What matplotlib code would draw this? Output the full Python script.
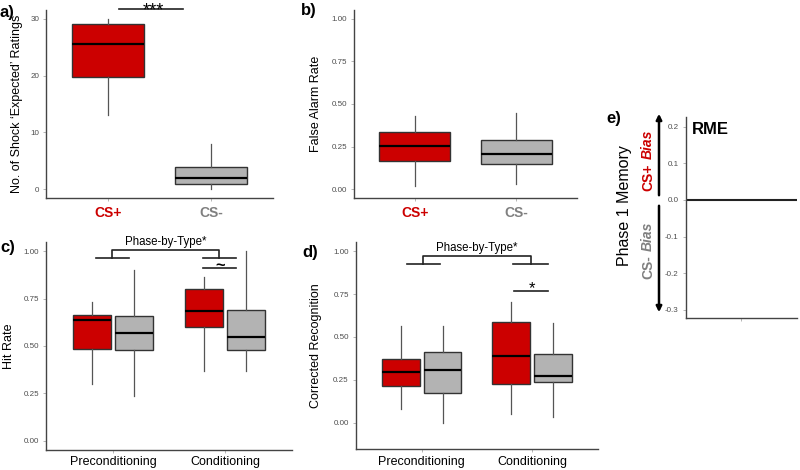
import matplotlib
matplotlib.use('Agg')
import matplotlib.pyplot as plt
from matplotlib.patches import FancyArrowPatch

plt.rcParams['font.family'] = ['Liberation Sans', 'DejaVu Sans']

W, H = 800, 470

# a) number of shock "expected" ratings, one value per type
types = ['CS+', 'CS-']
shock_lo = [13.0, 0.0]
shock_q1 = [19.7, 1.0]
shock_med = [25.5, 2.0]
shock_q3 = [29.0, 4.0]
shock_hi = [30.0, 8.0]

# b) false alarm rate
fa_lo = [0.018, 0.033]
fa_q1 = [0.165, 0.148]
fa_med = [0.257, 0.208]
fa_q3 = [0.339, 0.290]
fa_hi = [0.432, 0.448]

# c) hit rate, per phase: [CS+, CS-]
phases = ['Preconditioning', 'Conditioning']
hit_lo = [[0.300, 0.236], [0.367, 0.367]]
hit_q1 = [[0.484, 0.476], [0.600, 0.476]]
hit_med = [[0.635, 0.566], [0.684, 0.549]]
hit_q3 = [[0.664, 0.656], [0.800, 0.689]]
hit_hi = [[0.733, 0.899], [0.865, 1.000]]

# d) corrected recognition
cr_lo = [[0.081, 0.000], [0.049, 0.031]]
cr_q1 = [[0.213, 0.174], [0.223, 0.235]]
cr_med = [[0.297, 0.306], [0.390, 0.273]]
cr_q3 = [[0.374, 0.413], [0.585, 0.398]]
cr_hi = [[0.566, 0.566], [0.703, 0.581]]

# e) RME
rme_level = 0.0

type_colors = ['#CC0000', '#B3B3B3']
label_colors = ['#CC0000', '#808080']
tick_family = ['Liberation Sans Narrow', 'Liberation Sans', 'DejaVu Sans']


def fig_rect(x0, y0, x1, y1):
    return [x0 / W, 1 - y1 / H, (x1 - x0) / W, (y1 - y0) / H]


def px(x, y):
    return x / W, 1 - y / H


def draw_boxes(ax, lo, q1, med, q3, hi, positions, colors, width):
    stats = [dict(whislo=a, q1=b, med=c, q3=d, whishi=e, fliers=[])
             for a, b, c, d, e in zip(lo, q1, med, q3, hi)]
    bp = ax.bxp(stats, positions=positions, widths=width, patch_artist=True,
                showcaps=False, showfliers=False, manage_ticks=False,
                boxprops=dict(edgecolor='#333333', linewidth=1.0),
                medianprops=dict(color='black', linewidth=1.6),
                whiskerprops=dict(color='#555555', linewidth=0.9))
    for patch, col in zip(bp['boxes'], colors):
        patch.set_facecolor(col)


def style(ax, yticks, ylabels):
    for s in ['top', 'right']:
        ax.spines[s].set_visible(False)
    for s in ['left', 'bottom']:
        ax.spines[s].set_color('#444444')
        ax.spines[s].set_linewidth(1.0)
    ax.tick_params(length=2, width=0.6, color='#aaaaaa', labelcolor='#4d4d4d', pad=3)
    ax.set_yticks(yticks)
    ax.set_yticklabels(ylabels, fontsize=5.8, fontfamily=tick_family)


def bar(ax, x0, x1, y, **kw):
    ax.plot([x0, x1], [y, y], color='#222222', lw=1.2, clip_on=False, **kw)


fig = plt.figure(figsize=(W / 100, H / 100), dpi=100)

# ---------------- a)
ax = fig.add_axes(fig_rect(46, 10, 273, 198))
draw_boxes(ax, shock_lo, shock_q1, shock_med, shock_q3, shock_hi, [1, 2], type_colors, 0.7)
ax.set_xlim(0.4, 2.6)
ax.set_ylim(-1.5, 31.5)
style(ax, [0, 10, 20, 30], ['0', '10', '20', '30'])
ax.set_xticks([1, 2])
ax.set_xticklabels(types, fontsize=10, fontweight='bold')
for lab, c in zip(ax.get_xticklabels(), label_colors):
    lab.set_color(c)
ax.tick_params(axis='x', pad=4)
ax.set_ylabel('No. of Shock \u2018Expected\u2019 Ratings', fontsize=9)
ax.yaxis.set_label_coords(-0.10, 0.5)
bar(ax, 1.11, 1.73, 31.6)
ax.text(1.44, 30.6, '***', ha='center', va='baseline', fontsize=13, clip_on=False)

# ---------------- b)
ax = fig.add_axes(fig_rect(354, 10, 577, 198))
draw_boxes(ax, fa_lo, fa_q1, fa_med, fa_q3, fa_hi, [1, 2], type_colors, 0.7)
ax.set_xlim(0.4, 2.6)
ax.set_ylim(-0.05, 1.05)
style(ax, [0, 0.25, 0.5, 0.75, 1.0], ['0.00', '0.25', '0.50', '0.75', '1.00'])
ax.set_xticks([1, 2])
ax.set_xticklabels(types, fontsize=10, fontweight='bold')
for lab, c in zip(ax.get_xticklabels(), label_colors):
    lab.set_color(c)
ax.tick_params(axis='x', pad=4)
ax.set_ylabel('False Alarm Rate', fontsize=9)
ax.yaxis.set_label_coords(-0.145, 0.5)

# ---------------- c)
ax = fig.add_axes(fig_rect(46, 241.7, 292, 450))
for i in range(2):
    draw_boxes(ax, hit_lo[i], hit_q1[i], hit_med[i], hit_q3[i], hit_hi[i],
               [i + 1 - 0.19, i + 1 + 0.19], type_colors, 0.34)
ax.set_xlim(0.4, 2.6)
ax.set_ylim(-0.05, 1.05)
style(ax, [0, 0.25, 0.5, 0.75, 1.0], ['0.00', '0.25', '0.50', '0.75', '1.00'])
ax.set_xticks([1, 2])
ax.set_xticklabels(phases, fontsize=9)
ax.tick_params(axis='x', pad=2.5, labelcolor='black')
ax.set_ylabel('Hit Rate', fontsize=9)
ax.yaxis.set_label_coords(-0.126, 0.5)
ax.plot([0.99, 0.99, 1.947, 1.947], [0.965, 1.004, 1.004, 0.965],
        color='#222222', lw=1.2, clip_on=False)
bar(ax, 0.847, 1.142, 0.965)
bar(ax, 1.804, 2.099, 0.965)
bar(ax, 1.804, 2.099, 0.912)
ax.text(1.96, 0.903, '~', ha='center', va='baseline', fontsize=12, fontweight='bold',
        clip_on=False)
ax.text(1.47, 1.049, 'Phase-by-Type*', ha='center', va='center', fontsize=8.3, clip_on=False)

# ---------------- d)
ax = fig.add_axes(fig_rect(355.7, 241.7, 598, 449.3))
for i in range(2):
    draw_boxes(ax, cr_lo[i], cr_q1[i], cr_med[i], cr_q3[i], cr_hi[i],
               [i + 1 - 0.19, i + 1 + 0.19], type_colors, 0.34)
ax.set_xlim(0.4, 2.6)
ax.set_ylim(-0.155, 1.055)
style(ax, [0, 0.25, 0.5, 0.75, 1.0], ['0.00', '0.25', '0.50', '0.75', '1.00'])
ax.set_xticks([1, 2])
ax.set_xticklabels(phases, fontsize=9)
ax.tick_params(axis='x', pad=2.5, labelcolor='black')
ax.set_ylabel('Corrected Recognition', fontsize=9)
ax.yaxis.set_label_coords(-0.14, 0.5)
ax.plot([1.015, 1.015, 1.99, 1.99], [0.924, 0.969, 0.969, 0.924],
        color='#222222', lw=1.2, clip_on=False)
bar(ax, 0.864, 1.166, 0.924)
bar(ax, 1.827, 2.142, 0.924)
bar(ax, 1.839, 2.142, 0.766)
ax.text(2.0, 0.754, '*', ha='center', va='baseline', fontsize=12, clip_on=False)
ax.text(1.5, 1.02, 'Phase-by-Type*', ha='center', va='center', fontsize=8.3, clip_on=False)

# ---------------- e)
ax = fig.add_axes(fig_rect(685.7, 116.7, 797, 318))
ax.axhline(rme_level, color='#222222', lw=1.5)
ax.set_xlim(0.4, 1.6)
ax.set_ylim(-0.322, 0.227)
style(ax, [-0.3, -0.2, -0.1, 0.0, 0.1, 0.2], ['-0.3', '-0.2', '-0.1', '0.0', '0.1', '0.2'])
ax.set_xticks([1])
ax.set_xticklabels([''])
ax.text(0.054, 0.937, 'RME', transform=ax.transAxes, ha='left', va='center',
        fontsize=12, fontweight='bold')

fig.add_artist(FancyArrowPatch(px(659, 198), px(659, 111), transform=fig.transFigure,
                               arrowstyle='-|>', mutation_scale=8, lw=1.8, color='black'))
fig.add_artist(FancyArrowPatch(px(659, 203), px(659, 315), transform=fig.transFigure,
                               arrowstyle='-|>', mutation_scale=8, lw=1.8, color='black'))
fig.text(*px(625, 206), 'Phase 1 Memory', rotation=90, ha='center', va='center', fontsize=11.5)
fig.text(*px(648, 190.7), 'CS+', rotation=90, ha='center', va='bottom', fontsize=10,
         fontweight='bold', color='#CC0000')
fig.text(*px(648, 159.4), 'Bias', rotation=90, ha='center', va='bottom', fontsize=10,
         fontweight='bold', fontstyle='italic', color='#CC0000')
fig.text(*px(648, 279), 'CS-', rotation=90, ha='center', va='bottom', fontsize=10,
         fontweight='bold', color='#808080')
fig.text(*px(648, 251.2), 'Bias', rotation=90, ha='center', va='bottom', fontsize=10,
         fontweight='bold', fontstyle='italic', color='#808080')

# panel letters
for letter, (x, y) in zip(['a)', 'b)', 'c)', 'd)', 'e)'],
                          [(0, 12), (301, 10), (0, 247), (302, 252), (606, 119)]):
    fig.text(*px(x, y), letter, ha='left', va='center', fontsize=12, fontweight='bold')

fig.savefig('out.png', dpi=100)
